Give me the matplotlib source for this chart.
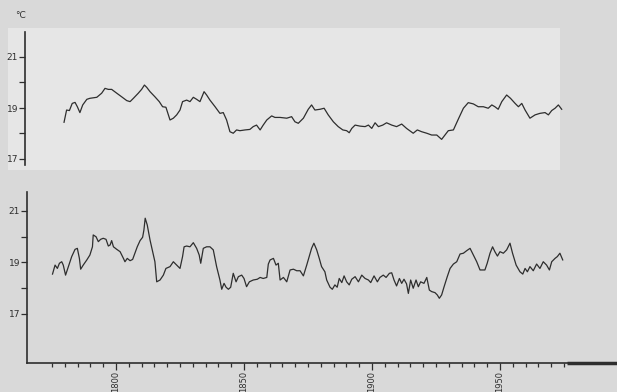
import matplotlib
matplotlib.use("Agg")
import matplotlib.pyplot as plt
from matplotlib.patches import Rectangle

top_years = [1779.7,1780.7,1781.8,1782.9,1784.0,1784.9,1785.9,1787.0,1788.6,1789.8,1792.5,1794.4,1795.7,1797.0,1798.3,
             1800.3,1802.2,1804.2,1805.5,1806.8,1808.7,1810.0,1811.1,1812.0,1813.3,1815.2,1816.9,1818.2,1819.5,1821.1,
             1822.4,1823.7,1825.0,1826.0,1827.6,1828.9,1830.2,1831.5,1832.8,1834.4,1835.4,1836.7,1838.7,1840.6,1841.9,
             1843.2,1844.5,1845.8,1847.1,1848.4,1850.4,1852.3,1853.6,1854.9,1856.3,1857.5,1858.9,1860.8,1862.1,1864.1,
             1866.7,1868.6,1869.9,1871.2,1873.2,1875.1,1876.4,1877.7,1879.7,1881.3,1882.9,1884.9,1886.8,1888.6,1890.1,
             1891.1,1892.1,1893.4,1895.3,1897.3,1898.6,1899.9,1901.2,1902.5,1904.2,1905.7,1907.7,1909.6,1911.6,1913.5,
             1916.1,1917.7,1919.4,1921.4,1923.3,1925.3,1927.2,1928.5,1929.8,1931.8,1933.7,1935.7,1937.6,1939.6,1941.5,
             1943.5,1945.4,1946.8,1948.0,1949.3,1950.7,1952.6,1954.1,1955.9,1957.2,1958.5,1959.8,1961.7,1963.7,1965.6,
             1967.6,1968.9,1970.2,1971.5,1972.8,1974.1]
top_values = [18.44,18.92,18.90,19.18,19.22,19.05,18.82,19.12,19.34,19.38,19.42,19.58,19.77,19.73,19.73,
              19.58,19.44,19.29,19.25,19.38,19.58,19.73,19.90,19.81,19.64,19.44,19.25,19.05,19.03,18.53,
              18.60,18.73,18.92,19.25,19.31,19.25,19.42,19.34,19.25,19.64,19.51,19.31,19.05,18.79,18.82,
              18.53,18.07,18.01,18.14,18.11,18.14,18.16,18.27,18.33,18.14,18.33,18.53,18.69,18.63,18.63,
              18.60,18.66,18.46,18.40,18.60,18.95,19.12,18.92,18.95,18.99,18.73,18.46,18.27,18.14,18.11,
              18.03,18.20,18.33,18.29,18.27,18.33,18.20,18.42,18.27,18.33,18.42,18.33,18.27,18.37,18.20,
              18.01,18.14,18.07,18.01,17.94,17.94,17.77,17.94,18.11,18.14,18.56,18.99,19.21,19.16,19.05,
              19.05,18.99,19.12,19.05,18.95,19.25,19.51,19.38,19.18,19.05,19.18,18.92,18.60,18.73,18.79,
              18.82,18.73,18.90,18.99,19.12,18.95]

bot_years = [1775.2,1776.2,1777.1,1777.9,1778.8,1779.4,1780.3,1781.4,1782.7,1784.0,1784.9,1785.7,1786.2,1787.2,1788.6,
             1789.8,1790.8,1791.1,1792.2,1793.1,1794.0,1795.0,1796.1,1797.0,1797.7,1798.3,1799.0,1800.3,1801.6,1802.9,
             1803.5,1804.4,1805.5,1806.5,1807.4,1808.3,1809.4,1810.4,1810.9,1811.4,1812.2,1813.3,1814.6,1815.2,1815.9,
             1817.2,1818.5,1819.5,1821.1,1822.4,1823.7,1825.0,1826.0,1826.6,1827.6,1828.9,1830.2,1831.5,1832.5,1833.1,
             1834.1,1835.4,1836.7,1838.0,1839.3,1840.6,1841.3,1842.2,1843.0,1843.9,1844.8,1845.8,1846.9,1847.8,1849.1,
             1850.0,1851.0,1852.1,1853.6,1855.2,1856.3,1857.5,1858.9,1859.5,1860.2,1861.5,1862.5,1863.4,1864.1,1865.4,
             1866.7,1868.0,1869.3,1870.6,1871.9,1873.2,1874.5,1876.4,1877.3,1878.4,1879.4,1880.3,1881.6,1882.3,1883.6,
             1884.5,1885.5,1886.4,1887.2,1888.2,1889.1,1890.1,1891.1,1892.1,1893.4,1894.7,1896.0,1897.3,1898.6,1899.5,
             1900.8,1902.1,1903.1,1904.4,1905.5,1906.8,1907.7,1908.6,1909.6,1910.7,1911.6,1912.5,1913.5,1914.2,1915.1,
             1916.1,1917.2,1918.1,1919.0,1920.3,1921.4,1922.4,1923.3,1924.6,1925.5,1926.3,1927.2,1928.1,1929.4,1930.5,
             1931.8,1933.1,1934.4,1935.7,1937.0,1938.3,1939.6,1940.9,1942.2,1944.1,1945.0,1946.1,1947.1,1948.0,1949.0,
             1950.0,1951.3,1952.6,1953.9,1954.9,1956.3,1957.8,1958.9,1959.8,1960.7,1961.7,1963.0,1964.3,1965.6,1966.9,
             1968.2,1969.3,1970.2,1971.5,1972.4,1973.4,1974.5]
bot_values = [18.55,18.90,18.77,18.97,19.03,18.90,18.51,18.84,19.23,19.51,19.55,19.16,18.74,18.90,19.10,
              19.29,19.61,20.07,20.00,19.81,19.90,19.94,19.90,19.64,19.68,19.85,19.61,19.51,19.42,19.16,
              19.03,19.16,19.07,19.12,19.36,19.61,19.85,19.98,20.26,20.72,20.46,19.87,19.29,19.03,18.25,
              18.32,18.51,18.77,18.84,19.03,18.90,18.77,19.23,19.61,19.64,19.61,19.77,19.55,19.29,18.97,
              19.55,19.61,19.61,19.49,18.84,18.32,17.96,18.19,18.04,17.96,18.04,18.58,18.25,18.45,18.51,
              18.38,18.06,18.25,18.32,18.35,18.42,18.38,18.42,18.94,19.10,19.16,18.90,18.97,18.32,18.42,
              18.25,18.71,18.74,18.68,18.68,18.48,18.90,19.55,19.75,19.49,19.16,18.84,18.64,18.32,18.04,
              17.96,18.13,18.04,18.38,18.22,18.48,18.25,18.13,18.35,18.45,18.25,18.51,18.38,18.32,18.22,
              18.48,18.25,18.42,18.51,18.42,18.58,18.60,18.32,18.09,18.38,18.19,18.35,18.17,17.80,18.32,
              18.00,18.32,18.06,18.25,18.19,18.42,17.93,17.87,17.83,17.74,17.61,17.74,18.04,18.45,18.77,
              18.94,19.03,19.33,19.36,19.46,19.55,19.29,19.03,18.71,18.71,18.97,19.36,19.61,19.42,19.25,
              19.42,19.36,19.49,19.75,19.36,18.90,18.64,18.55,18.77,18.64,18.84,18.68,18.94,18.77,19.03,
              18.90,18.71,19.03,19.16,19.23,19.36,19.10]

y_ticks_major = [17, 19, 21]
y_ticks_minor = [18, 20]
x_label_years = [1800, 1850, 1900, 1950]
x_minor_years = list(range(1775, 1980, 5))

W, H = 617, 392
fig = plt.figure(figsize=(W / 100, H / 100), dpi=100, facecolor="#d9d9d9")

ink = "#2e2e2e"

def fpos(x0, y0, x1, y1):
    return [x0 / W, 1 - y1 / H, (x1 - x0) / W, (y1 - y0) / H]

# lighter paper strip behind upper panel (a bare background axes)
bg = fig.add_axes(fpos(8, 28, 560, 170), zorder=-5)
bg.set_facecolor("#e6e6e6")
bg.set_xticks([]); bg.set_yticks([])
for s in bg.spines.values():
    s.set_visible(False)

# upper panel
ax1 = fig.add_axes(fpos(25, 32, 565, 165))
ax1.set_facecolor("none")
ax1.plot(top_years, top_values, color=ink, lw=0.9)
ax1.set_xlim(1800 - 91 / 2.56, 1800 + 449 / 2.56)
ax1.set_ylim(19 - 57 / 25.5, 19 + 76 / 25.5)
for s in ["top", "right", "bottom"]:
    ax1.spines[s].set_visible(False)
ax1.spines["left"].set_color(ink)
ax1.spines["left"].set_linewidth(1.2)
ax1.set_xticks([])
ax1.set_yticks(y_ticks_major)
ax1.set_yticks(y_ticks_minor, minor=True)
ax1.tick_params(axis="y", which="both", direction="out", length=4, width=0.9, colors=ink,
                labelsize=6.5, pad=1)

# lower panel
ax2 = fig.add_axes(fpos(27, 192, 617, 363))
ax2.set_facecolor("none")
ax2.plot(bot_years, bot_values, color=ink, lw=0.9)
ax2.set_xlim(1800 - 89 / 2.56, 1800 + 501 / 2.56)
ax2.set_ylim(19 - 100.5 / 25.75, 19 + 70.5 / 25.75)
for s in ["top", "right"]:
    ax2.spines[s].set_visible(False)
for s in ["left", "bottom"]:
    ax2.spines[s].set_color(ink)
    ax2.spines[s].set_linewidth(1.2)
ax2.set_yticks(y_ticks_major)
ax2.set_yticks(y_ticks_minor, minor=True)
ax2.tick_params(axis="y", which="both", direction="out", length=4, width=0.9, colors=ink,
                labelsize=6.5, pad=1)
ax2.set_xticks(x_label_years)
ax2.set_xticklabels([str(y) for y in x_label_years], rotation=90)
ax2.set_xticks([y for y in x_minor_years if y not in x_label_years], minor=True)
ax2.tick_params(axis="x", which="major", direction="out", length=5, width=0.9, colors=ink,
                labelsize=6, pad=1)
ax2.tick_params(axis="x", which="minor", direction="out", length=3, width=0.9, colors=ink)
# thick end of the axis
ax2.plot([1976, 1995.7], [ax2.get_ylim()[0]] * 2, color=ink, lw=2.5, clip_on=False,
         solid_capstyle="butt")

fig.text(20 / W, 1 - 16 / H, "°C", fontsize=6.5, color=ink, ha="center", va="center")

fig.savefig("out.png", dpi=100, facecolor=fig.get_facecolor())
